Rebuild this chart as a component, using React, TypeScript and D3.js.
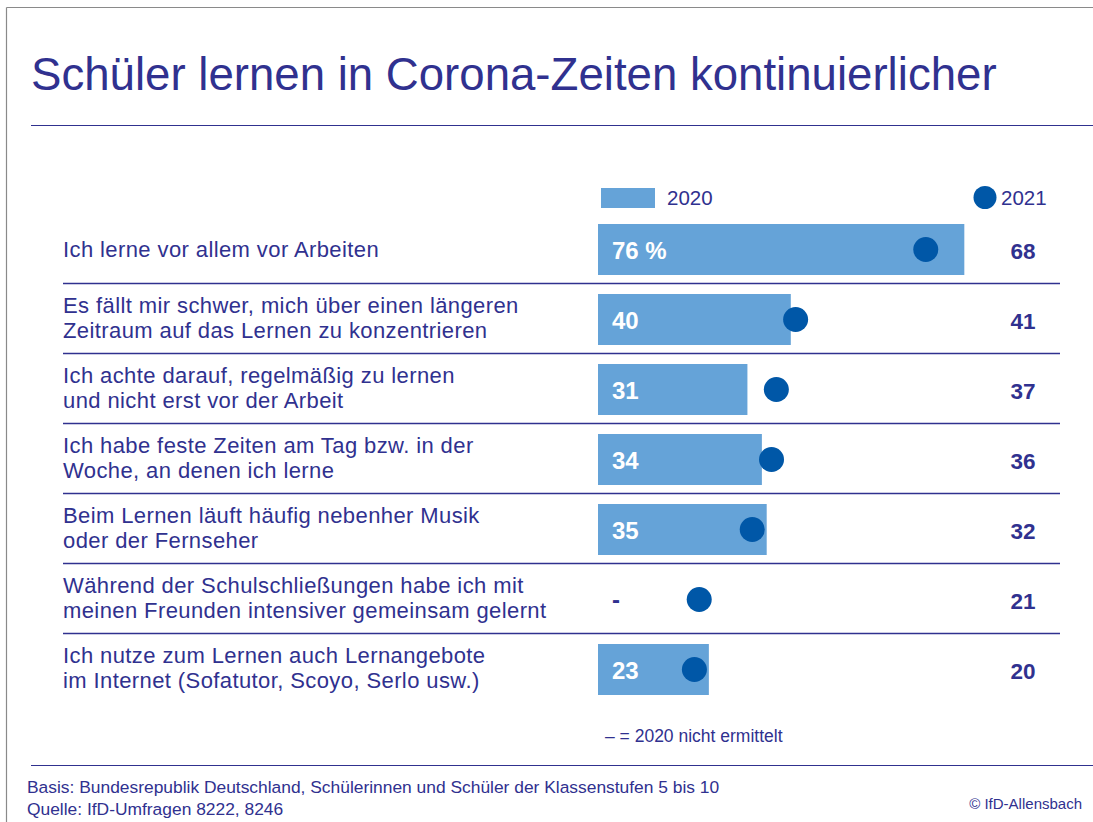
import React from "react";
import * as d3 from "d3";

const title = "Schüler lernen in Corona-Zeiten kontinuierlicher";
const categories: string[][] = [
  ["Ich lerne vor allem vor Arbeiten"],
  ["Es fällt mir schwer, mich über einen längeren", "Zeitraum auf das Lernen zu konzentrieren"],
  ["Ich achte darauf, regelmäßig zu lernen", "und nicht erst vor der Arbeit"],
  ["Ich habe feste Zeiten am Tag bzw. in der", "Woche, an denen ich lerne"],
  ["Beim Lernen läuft häufig nebenher Musik", "oder der Fernseher"],
  ["Während der Schulschließungen habe ich mit", "meinen Freunden intensiver gemeinsam gelernt"],
  ["Ich nutze zum Lernen auch Lernangebote", "im Internet (Sofatutor, Scoyo, Serlo usw.)"],
];
const values2020: (number | null)[] = [76, 40, 31, 34, 35, null, 23];
const values2021: number[] = [68, 41, 37, 36, 32, 21, 20];
const seriesNames = ["2020", "2021"];
const footnote = "– = 2020 nicht ermittelt";
const basis = "Basis: Bundesrepublik Deutschland, Schülerinnen und Schüler der Klassenstufen 5 bis 10";
const source = "Quelle: IfD-Umfragen 8222, 8246";
const copyright = "© IfD-Allensbach";

const W = 1093;
const H = 822;
const FONT = "'Liberation Sans', Arial, sans-serif";
const DARK = "#30318f";
const BAR = "#65a3d8";
const DOT = "#0057a7";

export default function App() {
  const x = d3.scaleLinear().domain([0, 100]).range([598, 1080]);
  const y = d3
    .scaleBand<number>()
    .domain(categories.map((_, i) => i))
    .range([214.5, 704.5])
    .paddingInner(0)
    .paddingOuter(0);
  const barH = 51;
  const center = (i: number) => (y(i) as number) + y.bandwidth() / 2;
  const lineGap = 24.7;

  return (
    <svg
      width={W}
      height={H}
      style={{ position: "absolute", left: 0, top: 0, background: "#fff" }}
      fontFamily={FONT}
    >
      <rect x={0} y={0} width={W} height={H} fill="#fff" />
      {/* frame */}
      <line x1={6.5} y1={7.5} x2={W} y2={7.5} stroke="#8a8a8a" strokeWidth={1.2} />
      <line x1={6.5} y1={7.5} x2={6.5} y2={H} stroke="#8a8a8a" strokeWidth={1.2} />

      {/* title */}
      <text x={31} y={90} fontSize={45.6} fill={DARK}>
        {title}
      </text>
      <line x1={31} y1={125.5} x2={W} y2={125.5} stroke={DARK} strokeWidth={1.2} />

      {/* legend */}
      <rect x={601} y={188} width={54} height={20} fill={BAR} />
      <text x={667} y={205} fontSize={20.5} fill={DARK}>
        {seriesNames[0]}
      </text>
      <circle cx={985} cy={197.5} r={11.5} fill={DOT} />
      <text x={1001} y={205} fontSize={20.5} fill={DARK}>
        {seriesNames[1]}
      </text>

      {/* separators */}
      {categories.slice(1).map((_, k) => {
        const i = k + 1;
        const yy = (y(i) as number) - 1;
        return (
          <line key={"sep" + i} x1={63} x2={1060} y1={yy} y2={yy} stroke={DARK} strokeWidth={1.3} />
        );
      })}

      {categories.map((lines, i) => {
        const c = center(i);
        const v20 = values2020[i];
        const v21 = values2021[i];
        const y0 = lines.length === 1 ? c + 7.5 : c - 6.5;
        return (
          <g key={"row" + i}>
            <text x={63} y={y0} fontSize={22} letterSpacing={0.4} fill={DARK}>
              {lines.map((l, j) => (
                <tspan key={j} x={63} dy={j === 0 ? 0 : lineGap}>
                  {l}
                </tspan>
              ))}
            </text>
            {v20 !== null ? (
              <rect x={x(0)} y={c - barH / 2} width={x(v20) - x(0)} height={barH} fill={BAR} />
            ) : null}
            <circle cx={x(v21)} cy={c} r={12.5} fill={DOT} />
            {v20 !== null ? (
              <text x={612} y={c + 9} fontSize={24} fontWeight="bold" fill="#fff">
                {i === 0 ? `${v20} %` : `${v20}`}
              </text>
            ) : (
              <text x={612} y={c + 8} fontSize={24} fontWeight="bold" fill={DARK}>
                -
              </text>
            )}
            <text x={1023} y={c + 9} fontSize={22.5} fontWeight="bold" fill={DARK} textAnchor="middle">
              {v21}
            </text>
          </g>
        );
      })}

      {/* footnote */}
      <text x={605} y={742} fontSize={17.5} fill={DARK}>
        {footnote}
      </text>

      {/* footer */}
      <line x1={31} y1={765.5} x2={W} y2={765.5} stroke={DARK} strokeWidth={1.2} />
      <text x={27} y={793} fontSize={17.4} fill={DARK}>
        {basis}
      </text>
      <text x={27} y={815} fontSize={17.4} fill={DARK}>
        {source}
      </text>
      <text x={1082} y={809} fontSize={15} fill={DARK} textAnchor="end">
        {copyright}
      </text>
    </svg>
  );
}
